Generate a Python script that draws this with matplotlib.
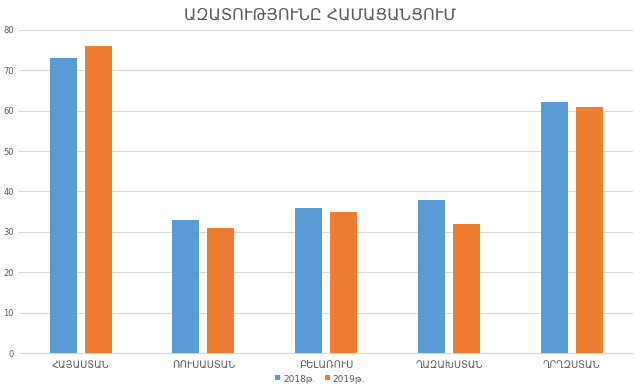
import matplotlib.pyplot as plt
import numpy as np

countries = ['ՀԱՅԱՍՏԱՆ', 'ՌՈՒՍԱՍՏԱՆ', 'ԲԵԼԱՌՈՒՍ', 'ՂԱԶԱԽՍՏԱՆ', 'ՂՐՂԶՍՏԱՆ']
vals_2018 = [73, 33, 36, 38, 62]
vals_2019 = [76, 31, 35, 32, 61]
series_labels = ['2018թ.', '2019թ.']
title = 'ԱԶԱՏՈՒԹՅՈՒՆԸ ՀԱՄԱՑԱՆՑՈՒՄ'

plt.rcParams['font.family'] = ['DejaVu Sans']
text_color = '#595959'

fig = plt.figure(figsize=(6.4, 3.9), dpi=100)
ax = fig.add_axes([0.030, 0.094, 0.959, 0.830])

x = np.arange(len(countries))
width = 0.22
ax.bar(x - 0.142, vals_2018, width, color='#5B9BD5', label=series_labels[0], zorder=3)
ax.bar(x + 0.142, vals_2019, width, color='#ED7D31', label=series_labels[1], zorder=3)

ax.set_xlim(-0.5, 4.5)
ax.set_ylim(0, 80)
ax.set_yticks(range(0, 81, 10))
ax.set_xticks(x)
ax.set_xticklabels(countries, fontsize=7, color=text_color)
ax.tick_params(axis='y', labelsize=6, labelcolor=text_color, length=0, pad=4)
ax.tick_params(axis='x', length=0, pad=5)
ax.grid(axis='y', color='#D9D9D9', linewidth=0.8, zorder=0)
for s in ['top', 'right', 'left']:
    ax.spines[s].set_visible(False)
ax.spines['bottom'].set_color('#D9D9D9')

fig.text(0.5, 0.962, title, ha='center', va='center', fontsize=11.5, color=text_color)
fig.legend(loc='center', bbox_to_anchor=(0.5, 0.03), ncol=2, frameon=False,
           fontsize=6.5, handlelength=0.6, handleheight=0.6, handletextpad=0.3,
           columnspacing=1.0, labelcolor=text_color)

fig.savefig('out.png', dpi=100)
